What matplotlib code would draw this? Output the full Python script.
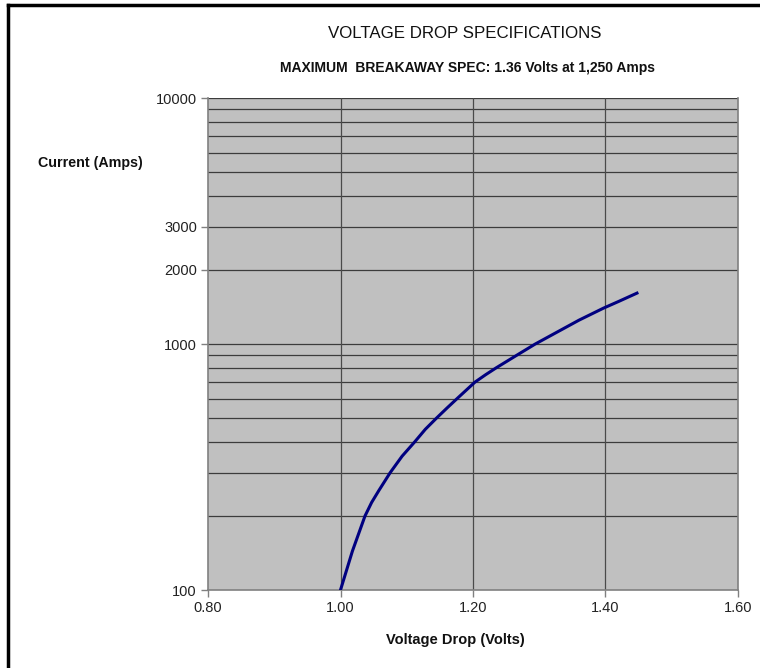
import matplotlib.pyplot as plt
from matplotlib.ticker import FixedLocator, NullFormatter
from matplotlib.lines import Line2D

# curve
volts = [1.000, 1.018, 1.037, 1.047, 1.058, 1.075, 1.093, 1.112, 1.128, 1.145,
         1.161, 1.176, 1.190, 1.203, 1.219, 1.235, 1.266, 1.294, 1.333, 1.360,
         1.397, 1.420, 1.4475]
amps = [100, 144, 200, 227, 254, 300, 350, 400, 450, 500,
        550, 600, 650, 700, 750, 800, 900, 1000, 1141, 1250,
        1399, 1490, 1610]

xticks = [0.80, 1.00, 1.20, 1.40, 1.60]
yticks = [100, 1000, 2000, 3000, 10000]
ygrid = [200, 300, 400, 500, 600, 700, 800, 900, 1000,
         2000, 3000, 4000, 5000, 6000, 7000, 8000, 9000]

plt.rcParams['font.family'] = ['Liberation Sans', 'DejaVu Sans']

fig = plt.figure(figsize=(7.6, 6.68), dpi=100)
ax = fig.add_axes([208/760, 1-590/668, 530/760, 492/668])
ax.set_facecolor('#c0c0c0')

ax.set_yscale('log')
ax.set_xlim(0.8, 1.6)
ax.set_ylim(100, 10000)

ax.set_xticks(xticks)
ax.set_xticklabels(['%.2f' % v for v in xticks])
ax.set_yticks(yticks)
ax.set_yticklabels([str(v) for v in yticks])
ax.yaxis.set_minor_locator(FixedLocator(ygrid))
ax.yaxis.set_minor_formatter(NullFormatter())
ax.tick_params(axis='y', which='minor', length=0)
ax.tick_params(axis='both', which='major', length=5, width=1, color='#808080',
               labelsize=10.5, labelcolor='#222222', pad=3)

for y in ygrid + [10000]:
    ax.axhline(y, color='#3c3c3c', lw=0.9, zorder=1)
for x in xticks[1:-1]:
    ax.axvline(x, color='#4a4a4a', lw=0.9, zorder=1)

for s in ['left', 'bottom', 'right']:
    ax.spines[s].set_color('#808080')
    ax.spines[s].set_linewidth(1.2)
ax.spines['top'].set_visible(False)

ax.plot(volts, amps, color='#000080', lw=2.2, zorder=3, solid_joinstyle='round')

fig.text(465/760, 1-33/668, 'VOLTAGE DROP SPECIFICATIONS', ha='center', va='center',
         fontsize=12.2, color='#111111')
fig.text(468/760, 1-68/668, 'MAXIMUM  BREAKAWAY SPEC: 1.36 Volts at 1,250 Amps',
         ha='center', va='center', fontsize=10, fontweight='bold', color='#111111')
fig.text(90/760, 1-163/668, 'Current (Amps)', ha='center', va='center',
         fontsize=10.3, fontweight='bold', color='#111111')
fig.text(455/760, 1-640/668, 'Voltage Drop (Volts)', ha='center', va='center',
         fontsize=10.5, fontweight='bold', color='#111111')

# outer frame (left and top edges visible)
fig.add_artist(Line2D([8/760, 8/760], [0, 1-5/668], transform=fig.transFigure,
                      color='black', lw=2.5))
fig.add_artist(Line2D([8/760, 1], [1-5/668, 1-5/668], transform=fig.transFigure,
                      color='black', lw=2.5))

fig.savefig('out.png', dpi=100)
